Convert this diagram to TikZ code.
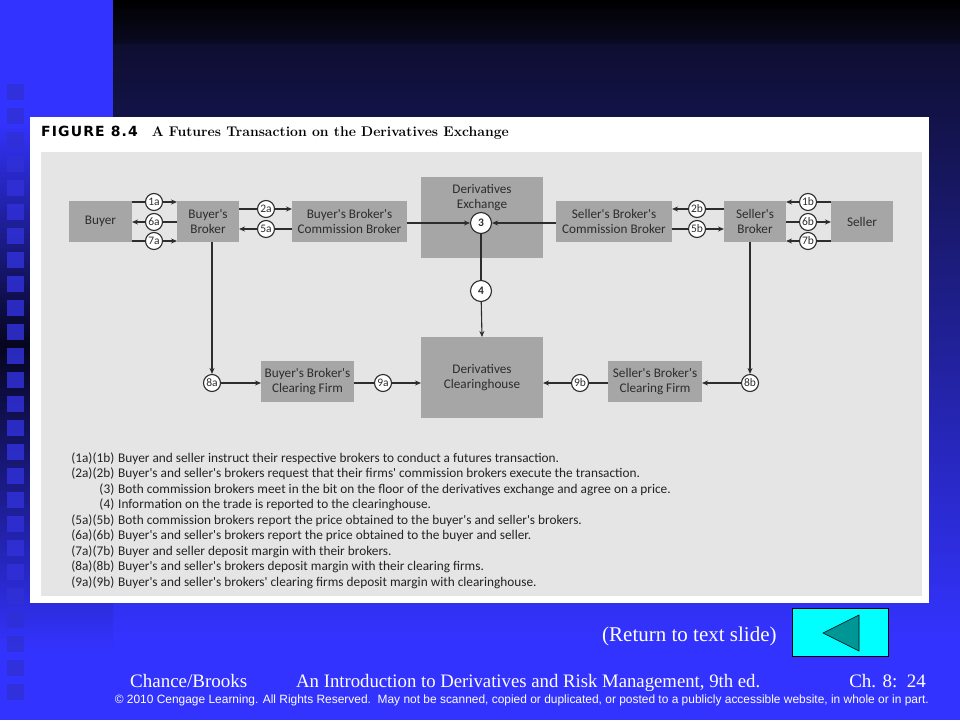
\documentclass[tikz,border=0pt]{standalone}
\usepackage{fontspec}
\usepackage{graphicx}
\usetikzlibrary{arrows.meta,calc}
\newfontfamily\gill{Carlito}
\newfontfamily\figfont[LetterSpace=8]{DejaVu Sans}
\newfontfamily\timesf{Liberation Serif}
\newfontfamily\arialf{Liberation Sans}
\definecolor{slideblue}{RGB}{51,51,255}
\definecolor{navytop}{RGB}{14,14,48}
\definecolor{darkleft}{RGB}{6,6,30}
\definecolor{sqblue}{RGB}{48,48,215}
\definecolor{panelgray}{RGB}{229,229,229}
\definecolor{boxgray}{RGB}{166,166,166}
\definecolor{ink}{RGB}{45,45,45}
\definecolor{legink}{RGB}{35,35,35}
\definecolor{btncyan}{RGB}{0,255,255}
\definecolor{teal}{RGB}{0,150,150}
\tikzset{
  stepbox/.style={fill=boxgray, text=ink, font=\gill\fontsize{13.2}{14.5}\selectfont, align=center, inner sep=0pt, outer sep=0pt},
  num/.style={circle, draw=ink, line width=1.1pt, fill=white, text=ink, font=\gill\fontsize{11.5}{12}\selectfont, inner sep=0pt, minimum size=17pt},
  bignum/.style={num, minimum size=21pt, font=\gill\bfseries\fontsize{11.5}{12}\selectfont},
  conn/.style={draw=ink, line width=1.1pt},
  arr/.style={conn, -{Stealth[length=6pt,width=5pt]}},
  legend/.style={font=\gill\fontsize{13.3}{14}\selectfont, text=legink, inner sep=0pt},
  foot/.style={text=white, inner sep=0pt}
}
\begin{document}
\begin{tikzpicture}[x=1pt,y=-1pt]
\useasboundingbox (0,0) rectangle (960,720);
% background
\fill[slideblue] (0,0) rectangle (960,720);
\shade[top color=navytop, bottom color=slideblue] (113,43) rectangle (960,640);
\shade[top color=black, bottom color=navytop!70!black] (113,0) rectangle (960,43);
\shade[top color=slideblue, bottom color=darkleft] (0,120) rectangle (113,345);
\shade[top color=darkleft, bottom color=slideblue] (0,345) rectangle (113,650);
\foreach \k in {0,...,25} {
  \fill[sqblue, opacity=0.85] (7,{84+24*\k}) rectangle (24,{100+24*\k});
}
% figure panel
\fill[white] (30,117) rectangle (929,603);
\fill[panelgray] (41,152) rectangle (922,596);
\node[anchor=base west, inner sep=0pt, text=black] (title) at (41,136.5)
  {{\figfont\bfseries\fontsize{14}{15}\selectfont FIGURE 8.4}\hspace{14pt}{\bfseries\fontsize{14}{15}\selectfont A Futures Transaction on the Derivatives Exchange}};
% boxes
\node[stepbox, minimum width=63pt, minimum height=41pt] (buyer) at (100.5,221.5) {Buyer};
\node[stepbox, minimum width=62pt, minimum height=41pt] (bbroker) at (208,221.5) {Buyer's\\Broker};
\node[stepbox, minimum width=115pt, minimum height=41pt] (bcomm) at (349.5,221.5) {Buyer's Broker's\\Commission Broker};
\node[stepbox, minimum width=122pt, minimum height=81pt] (exch) at (482,217.5) {};
\node[text=ink, font=\gill\fontsize{13.2}{14.5}\selectfont, align=center, inner sep=0pt] (exchlbl) at (482,197.5) {Derivatives\\Exchange};
\node[stepbox, minimum width=116pt, minimum height=41pt] (scomm) at (614,221.5) {Seller's Broker's\\Commission Broker};
\node[stepbox, minimum width=62pt, minimum height=41pt] (sbroker) at (755,221.5) {Seller's\\Broker};
\node[stepbox, minimum width=62pt, minimum height=41pt] (seller) at (862,221.5) {Seller};
\node[stepbox, minimum width=122pt, minimum height=81pt] (clear) at (482,377.5) {Derivatives\\Clearinghouse};
\node[stepbox, minimum width=93pt, minimum height=41pt] (bclear) at (307.5,381.5) {Buyer's Broker's\\Clearing Firm};
\node[stepbox, minimum width=94pt, minimum height=41pt] (sclear) at (655,381.5) {Seller's Broker's\\Clearing Firm};
% numbered circles
\node[bignum] (c3) at (481,223) {3};
\node[bignum] (c4) at (481,291) {4};
\node[num] (c1a) at (154,202) {1a};
\node[num] (c6a) at (154,222) {6a};
\node[num] (c7a) at (154,241) {7a};
\node[num] (c2a) at (266,209) {2a};
\node[num] (c5a) at (266,229) {5a};
\node[num] (c2b) at (697,209) {2b};
\node[num] (c5b) at (697,229) {5b};
\node[num] (c1b) at (808,202) {1b};
\node[num] (c6b) at (808,222) {6b};
\node[num] (c7b) at (808,241) {7b};
\node[num] (c8a) at (212,383) {8a};
\node[num] (c9a) at (383,383) {9a};
\node[num] (c9b) at (580,383) {9b};
\node[num] (c8b) at (750,383) {8b};
% connectors buyer side
\draw[conn] (buyer.east |- c1a) -- (c1a);
\draw[arr] (c1a) -- (bbroker.west |- c1a);
\draw[conn] (bbroker.west |- c6a) -- (c6a);
\draw[arr] (c6a) -- (buyer.east |- c6a);
\draw[conn] (buyer.east |- c7a) -- (c7a);
\draw[arr] (c7a) -- (bbroker.west |- c7a);
\draw[conn] (bbroker.east |- c2a) -- (c2a);
\draw[arr] (c2a) -- (bcomm.west |- c2a);
\draw[conn] (bcomm.west |- c5a) -- (c5a);
\draw[arr] (c5a) -- (bbroker.east |- c5a);
\draw[arr] (bcomm.east |- c3) -- (c3);
% seller side
\draw[arr] (scomm.west |- c3) -- (c3);
\draw[conn] (sbroker.west |- c2b) -- (c2b);
\draw[arr] (c2b) -- (scomm.east |- c2b);
\draw[conn] (scomm.east |- c5b) -- (c5b);
\draw[arr] (c5b) -- (sbroker.west |- c5b);
\draw[conn] (seller.west |- c1b) -- (c1b);
\draw[arr] (c1b) -- (sbroker.east |- c1b);
\draw[conn] (sbroker.east |- c6b) -- (c6b);
\draw[arr] (c6b) -- (seller.west |- c6b);
\draw[conn] (seller.west |- c7b) -- (c7b);
\draw[arr] (c7b) -- (sbroker.east |- c7b);
% vertical
\draw[conn] (c3) -- (c4);
\draw[arr] (c4) -- (clear.north);
\draw[arr] (bbroker.south -| c8a) -- (c8a);
\draw[arr] (sbroker.south -| c8b) -- (c8b);
\draw[arr] (c8a) -- (bclear.west |- c8a);
\draw[conn] (bclear.east |- c9a) -- (c9a);
\draw[arr] (c9a) -- (clear.west |- c9a);
\draw[arr] (c8b) -- (sclear.east |- c8b);
\draw[conn] (sclear.west |- c9b) -- (c9b);
\draw[arr] (c9b) -- (clear.east |- c9b);
% legend
\foreach \lab/\txt [count=\i from 0] in {
 {(1a)(1b)}/{Buyer and seller instruct their respective brokers to conduct a futures transaction.},
 {(2a)(2b)}/{Buyer's and seller's brokers request that their firms' commission brokers execute the transaction.},
 {(3)}/{Both commission brokers meet in the bit on the floor of the derivatives exchange and agree on a price.},
 {(4)}/{Information on the trade is reported to the clearinghouse.},
 {(5a)(5b)}/{Both commission brokers report the price obtained to the buyer's and seller's brokers.},
 {(6a)(6b)}/{Buyer's and seller's brokers report the price obtained to the buyer and seller.},
 {(7a)(7b)}/{Buyer and seller deposit margin with their brokers.},
 {(8a)(8b)}/{Buyer's and seller's brokers deposit margin with their clearing firms.},
 {(9a)(9b)}/{Buyer's and seller's brokers' clearing firms deposit margin with clearinghouse.}} {
  \node[legend, anchor=base east] (lab\i) at (114.5,{462+15.5*\i}) {\lab};
  \node[legend, anchor=base west] (txt\i) at (118,{462+15.5*\i}) {\txt};
}
% return button
\node[foot, anchor=base west, font=\timesf\fontsize{21}{23}\selectfont] (ret) at (602,641) {(Return to text slide)};
\node[draw=black, line width=0.8pt, fill=btncyan, minimum width=96pt, minimum height=48pt, inner sep=0pt] (btn) at (840,632) {};
\draw[fill=teal, draw=black, line width=0.6pt] (823,633) -- (859,615) -- (859,651) -- cycle;
% footer
\node[foot, anchor=base west, font=\timesf\fontsize{19}{21}\selectfont] (auth) at (130,687) {Chance/Brooks};
\node[foot, anchor=base west, font=\timesf\fontsize{19}{21}\selectfont] (book) at (296,687) {\resizebox{464pt}{\height}{An Introduction to Derivatives and Risk Management, 9th ed.}};
\node[foot, anchor=base east, font=\timesf\fontsize{19}{21}\selectfont] (chap) at (926,687) {Ch. 8:\ \ 24};
\node[foot, anchor=base east, font=\arialf\fontsize{12}{13}\selectfont] (copy) at (929,703.5) {\resizebox{814pt}{\height}{\textcopyright{} 2010 Cengage Learning. All Rights Reserved.\ \ May not be scanned, copied or duplicated, or posted to a publicly accessible website, in whole or in part.}};
\end{tikzpicture}
\end{document}
